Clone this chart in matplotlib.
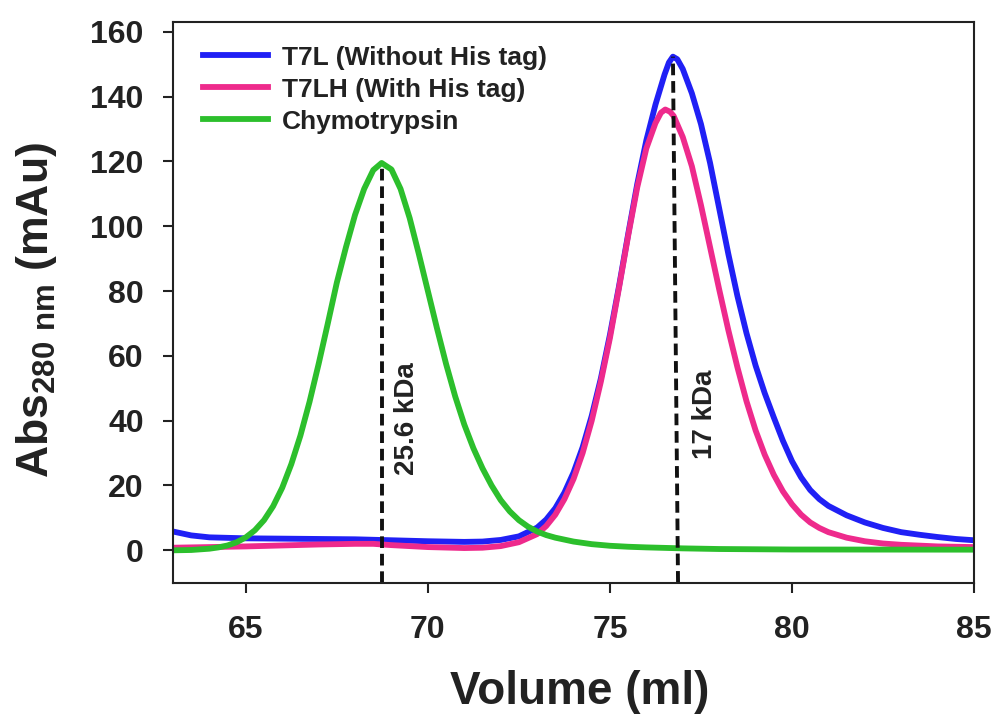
import numpy as np
import matplotlib
matplotlib.use("Agg")
import matplotlib.pyplot as plt

plt.rcParams['font.family'] = ['Liberation Sans', 'DejaVu Sans']
plt.rcParams['font.weight'] = 'bold'
plt.rcParams['mathtext.fontset'] = 'custom'
plt.rcParams['mathtext.rm'] = 'Liberation Sans:bold'
plt.rcParams['mathtext.bf'] = 'Liberation Sans:bold'

# T7L (Without His tag)
vol_t7l = [63, 63.5, 64, 65, 66, 67, 68, 69, 70, 71, 71.5, 72, 72.5, 73, 73.25, 73.5,
           73.75, 74, 74.25, 74.5, 74.75, 75, 75.25, 75.5, 75.75, 76, 76.25, 76.5,
           76.62, 76.73, 76.85, 77, 77.25, 77.5, 77.75, 78, 78.25, 78.5, 78.75, 79,
           79.25, 79.5, 79.75, 80, 80.25, 80.5, 80.75, 81, 81.5, 82, 82.5, 83, 83.5,
           84, 84.5, 85]
abs_t7l = [5.8, 4.6, 4.0, 3.7, 3.6, 3.5, 3.4, 3.1, 2.8, 2.6, 2.7, 3.2, 4.3, 7.0, 9.5, 13.0,
           17.8, 24.0, 31.8, 41.5, 53.0, 66.5, 81.5, 97.5, 113.0, 126.5, 137.5, 146.8,
           150.5, 152.3, 151.5, 148.5, 141.0, 131.5, 119.5, 105.5, 91.5, 78.5, 67.0, 57.0,
           48.5, 41.0, 33.8, 27.5, 22.5, 18.6, 15.8, 13.7, 10.8, 8.6, 6.9, 5.6, 4.8,
           4.1, 3.5, 3.1]

# T7LH (With His tag)
vol_t7lh = [63, 64, 65, 66, 67, 68, 68.5, 69, 70, 71, 71.5, 72, 72.5, 73, 73.25, 73.5,
            73.75, 74, 74.25, 74.5, 74.75, 75, 75.25, 75.5, 75.75, 76, 76.25, 76.4,
            76.52, 76.65, 76.75, 77, 77.25, 77.5, 77.75, 78, 78.25, 78.5, 78.75, 79,
            79.25, 79.5, 79.75, 80, 80.25, 80.5, 80.75, 81, 81.5, 82, 82.5, 83, 84, 85]
abs_t7lh = [0.8, 1.0, 1.2, 1.5, 1.8, 2.0, 2.0, 1.6, 1.0, 0.7, 0.8, 1.3, 2.5, 5.0, 7.5, 11.0,
            15.8, 22.0, 30.0, 40.0, 52.0, 65.5, 81.0, 97.0, 112.0, 124.0, 131.8, 135.0,
            136.0, 135.3, 134.0, 127.5, 118.5, 106.5, 93.5, 80.5, 68.0, 56.5, 46.0, 37.0,
            29.5, 23.3, 18.2, 14.2, 11.0, 8.6, 6.9, 5.6, 3.9, 2.8, 2.1, 1.7, 1.2, 1.0]

# Chymotrypsin
vol_chy = [63, 63.5, 64, 64.25, 64.5, 64.75, 65, 65.25, 65.5, 65.75, 66, 66.25, 66.5,
           66.75, 67, 67.25, 67.5, 67.75, 68, 68.25, 68.5, 68.73, 69, 69.25, 69.5,
           69.75, 70, 70.25, 70.5, 70.75, 71, 71.25, 71.5, 71.75, 72, 72.25, 72.5,
           72.75, 73, 73.25, 73.5, 74, 74.5, 75, 75.5, 76, 77, 78, 80, 85]
abs_chy = [0.0, 0.1, 0.5, 0.9, 1.5, 2.5, 4.0, 6.2, 9.3, 13.6, 19.3, 26.6, 35.4,
           45.8, 57.5, 69.9, 82.6, 93.5, 103.5, 111.5, 117.3, 119.5, 117.5, 111.5, 102.5,
           91.5, 80.0, 68.5, 57.5, 47.5, 38.8, 31.5, 25.3, 20.0, 15.5, 12.0, 9.3,
           7.3, 5.8, 4.7, 3.9, 2.7, 1.9, 1.4, 1.1, 0.9, 0.6, 0.4, 0.25, 0.2]

# peak markers and labels
peak_chy = (68.73, 119.5)
peak_t7 = (76.87, 76.73, 152.3)
ann_chy = (69.43, 40.6, '25.6 kDa')
ann_t7 = (77.62, 42, '17 kDa')

fig = plt.figure(figsize=(9.97, 7.18), dpi=100)
ax = fig.add_axes([0.1735, 0.1884, 0.8035, 0.781])

ax.plot(vol_t7l, abs_t7l, color='#2020f5', lw=4.2, label='T7L (Without His tag)')
ax.plot(vol_t7lh, abs_t7lh, color='#ee2a8c', lw=4.2, label='T7LH (With His tag)')
ax.plot(vol_chy, abs_chy, color='#2cbf2c', lw=4.2, label='Chymotrypsin')

ax.plot([peak_chy[0], peak_chy[0]], [-10, peak_chy[1]], color='#111111', lw=2.8, ls=(0, (3.0, 1.5)))
ax.plot([peak_t7[0], peak_t7[1]], [-10, peak_t7[2]], color='#111111', lw=2.8, ls=(0, (3.0, 1.5)))

ax.text(ann_chy[0], ann_chy[1], ann_chy[2], rotation=90, ha='center', va='center',
        fontsize=20, color='#222222')
ax.text(ann_t7[0], ann_t7[1], ann_t7[2], rotation=90, ha='center', va='center',
        fontsize=20, color='#222222')

ax.set_xlim(63, 85)
ax.set_ylim(-10, 163)
ax.set_xticks([65, 70, 75, 80, 85])
ax.set_yticks(np.arange(0, 161, 20))
ax.tick_params(direction='out', length=7, width=1.5, labelsize=23, colors='#222222')
ax.tick_params(axis='y', pad=14)
ax.tick_params(axis='x', pad=16.5)
for lab in ax.get_xticklabels() + ax.get_yticklabels():
    lab.set_fontweight('bold')
for sp in ax.spines.values():
    sp.set_linewidth(1.5)
    sp.set_color('#222222')

fig.text(0.581, 0.036, 'Volume (ml)', fontsize=33, fontweight='bold', color='#222222',
         ha='center', va='center')
fig.text(0.037, 0.568, r'Abs$_{\mathrm{280\ nm}}$ (mAu)', fontsize=32, fontweight='bold',
         color='#222222', rotation=90, ha='center', va='center')

leg = ax.legend(loc='upper left', bbox_to_anchor=(0.0078, 1.0), frameon=False,
                fontsize=19, handlelength=2.46, handletextpad=0.53, labelspacing=0.3)
for t in leg.get_texts():
    t.set_color('#222222')

fig.savefig('out.png', dpi=100, facecolor='white')
